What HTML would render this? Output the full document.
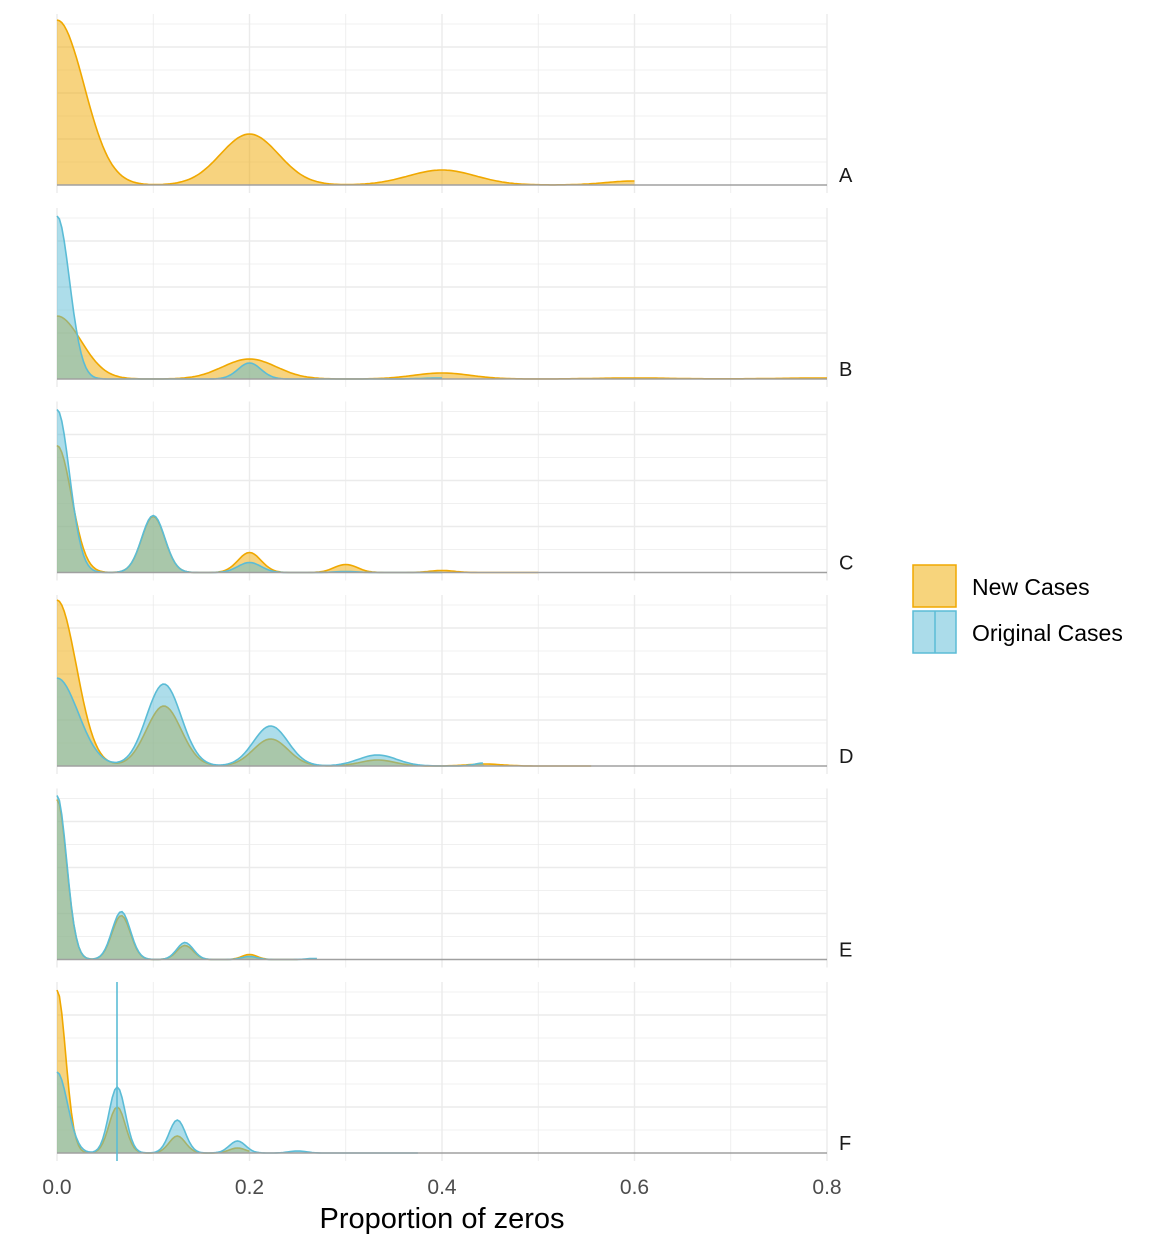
<!DOCTYPE html>
<html><head><style>body{margin:0;background:#fff}svg{display:block}</style></head>
<body>
<svg id="s" width="1152" height="1248" xmlns="http://www.w3.org/2000/svg" font-family="Liberation Sans, sans-serif">
<g id="g"></g>
<text x="57" y="1194" font-size="21" fill="#4d4d4d" text-anchor="middle">0.0</text>
<text x="249.5" y="1194" font-size="21" fill="#4d4d4d" text-anchor="middle">0.2</text>
<text x="442" y="1194" font-size="21" fill="#4d4d4d" text-anchor="middle">0.4</text>
<text x="634.5" y="1194" font-size="21" fill="#4d4d4d" text-anchor="middle">0.6</text>
<text x="827" y="1194" font-size="21" fill="#4d4d4d" text-anchor="middle">0.8</text>
<text x="442" y="1228" font-size="29" fill="#000" text-anchor="middle">Proportion of zeros</text>
<rect x="913" y="565" width="43" height="42" fill="#f7d47c" stroke="#f0a800" stroke-width="1.5"/>
<rect x="913" y="611" width="43" height="42" fill="#abdcea" stroke="#5bbcd6" stroke-width="1.5"/>
<line x1="935" y1="611" x2="935" y2="653" stroke="#5bbcd6" stroke-width="1.5"/>
<text x="972" y="595" font-size="23">New Cases</text>
<text x="972" y="641" font-size="23">Original Cases</text>
</svg>
<script>
const g=document.getElementById('g');let h='';
const X=v=>57+v*962.5;
const tops=[14,208,401.5,595,788.5,982],labs='ABCDEF';
const P=[
 [{pk:[[0,165,.028],[.2,51,.03],[.4,15,.035],[.6,4,.03]],end:.6},null],
 [{pk:[[0,63,.025],[.2,20,.028],[.4,6,.03],[.6,1,.04],[.8,1,.05]],end:.8},{pk:[[0,163,.013],[.2,16,.012],[.4,1,.02]],end:.4}],
 [{pk:[[0,127,.015],[.1,56,.012],[.2,20,.012],[.3,8,.012],[.4,2,.013]],end:.5},{pk:[[0,163,.013],[.1,57,.012],[.2,10,.012],[.3,1,.012]],end:.4}],
 [{pk:[[0,166,.02],[.111,60,.018],[.222,27,.018],[.333,6,.018],[.444,2,.018]],end:.555},{pk:[[0,88,.022],[.111,82,.018],[.222,40,.018],[.333,11,.02],[.444,3,.01]],end:.444}],
 [{pk:[[0,160,.01],[.0667,44,.0095],[.133,14,.0085],[.2,5,.008]],end:.25},{pk:[[0,164,.01],[.0667,48,.0095],[.133,17,.0085],[.2,3,.008],[.267,1,.008]],end:.27}],
 [{pk:[[0,163,.009],[.0625,46,.0085],[.125,17,.0085],[.1875,5,.0085]],end:.2},{pk:[[0,81,.011],[.0625,66,.0085],[.125,33,.0085],[.1875,12,.0085],[.25,2,.009]],end:.375}]
];
tops.forEach((t,i)=>{
 const b=t+171,bot=t+179;
 for(let k=1;k<8;k++){const y=b-k*23;if(y<t)break;h+=`<line x1="57" x2="827" y1="${y}" y2="${y}" stroke="#ebebeb" stroke-width="${k%2?0.8:1.4}"/>`;}
 for(let k=0;k<=8;k++){h+=`<line x1="${X(k/10)}" x2="${X(k/10)}" y1="${t}" y2="${bot}" stroke="#ebebeb" stroke-width="${k%2?0.8:1.4}"/>`;}
 [[P[i][0],'#f0a800','#f0a800'],[P[i][1],'#5bbcd6','#5bbcd6']].forEach(([c,st,fl])=>{
  if(!c)return;let pts=[];
  for(let v=0;v<=c.end+1e-9;v+=0.0025){let d=0;c.pk.forEach(([m,a,s])=>d+=a*Math.exp(-((v-m)**2)/(2*s*s)));pts.push([X(v),b-d]);}
  const line=pts.map((p,j)=>(j?'L':'M')+p[0].toFixed(1)+','+p[1].toFixed(1)).join('');
  h+=`<path d="${line}L${X(c.end)},${b}L57,${b}Z" fill="${fl}" fill-opacity="0.5"/>`;
  h+=`<path d="${line}" fill="none" stroke="${st}" stroke-width="1.6"/>`;
 });
 h+=`<line x1="57" x2="827" y1="${b}" y2="${b}" stroke="#a0a0a0" stroke-width="1.5"/>`;
 h+=`<text x="839" y="${b-3}" font-size="20" fill="#1a1a1a">${labs[i]}</text>`;
});
h+=`<line x1="117" x2="117" y1="982" y2="1161" stroke="#5bbcd6" stroke-width="1.6"/>`;
g.innerHTML=h;
</script>
</body></html>
